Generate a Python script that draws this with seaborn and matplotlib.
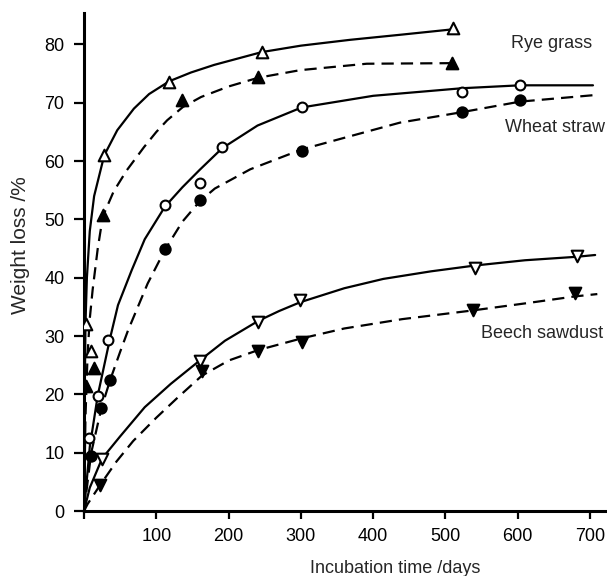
import matplotlib
matplotlib.use("Agg")
import matplotlib.pyplot as plt
import seaborn as sns
import pandas as pd

# ---- fitted curves ----
rye_solid_x = [0, 1, 2, 4, 8, 14, 22, 28, 46, 69, 90, 118, 148, 180, 246, 300, 368, 440, 510]
rye_solid_y = [0, 20, 32, 40, 48, 54, 58, 61, 65.3, 69.0, 71.5, 73.7, 75.2, 76.5, 78.7, 79.8, 80.8, 81.7, 82.6]
rye_dash_x = [0, 2, 5, 8, 12, 19, 26, 41, 59, 83, 100, 115, 137, 162, 200, 241, 299, 391, 509]
rye_dash_y = [0, 16, 27, 33, 38, 45, 50.5, 54.8, 58.4, 62.4, 65, 67, 69.3, 71, 72.8, 74.3, 75.6, 76.7, 76.8]

wheat_solid_x = [0, 8, 19, 36, 47, 66, 84, 112, 136, 160, 191, 240, 301, 400, 523, 603, 704]
wheat_solid_y = [0, 11, 19.8, 29.6, 35.3, 41.3, 46.6, 52.2, 55.5, 58.5, 62.2, 66.1, 69.2, 71.2, 72.5, 73, 73]
wheat_dash_x = [0, 4, 10, 24, 36, 50, 61, 88, 112, 136, 160, 181, 230, 301, 437, 523, 603, 704]
wheat_dash_y = [0, 4, 10, 17.6, 22.4, 27.3, 31, 39, 44.8, 49.6, 53.1, 55.3, 58.6, 62.0, 66.6, 68.4, 70.2, 71.3]

beech_solid_x = [0, 8, 25, 50, 84, 120, 160, 195, 241, 270, 299, 360, 414, 480, 541, 610, 682, 707]
beech_solid_y = [0, 4, 9, 12.8, 17.8, 21.8, 25.8, 29.2, 32.6, 34.3, 35.8, 38.2, 39.8, 41.1, 42.1, 43, 43.6, 43.9]
beech_dash_x = [0, 5, 22, 45, 68, 100, 130, 163, 200, 241, 301, 360, 440, 538, 610, 679, 710]
beech_dash_y = [0, 1.2, 4.4, 8.5, 12, 16, 19.5, 23.2, 25.8, 27.6, 29.6, 31.3, 32.9, 34.4, 35.6, 36.8, 37.2]

# ---- measured points ----
rye_open_x = [3, 10, 28, 118, 246, 510]
rye_open_y = [32, 27.5, 61, 73.5, 78.7, 82.8]
rye_fill_x = [3, 14, 26, 136, 241, 509]
rye_fill_y = [21.5, 24.6, 50.7, 70.4, 74.4, 76.8]

wheat_open_x = [7, 19, 33, 112, 160, 191, 301, 523, 603]
wheat_open_y = [12.6, 19.8, 29.4, 52.4, 56.3, 62.4, 69.3, 71.8, 73]
wheat_fill_x = [9, 24, 36, 112, 160, 301, 523, 603]
wheat_fill_y = [9.5, 17.6, 22.4, 45, 53.3, 61.8, 68.4, 70.5]

beech_open_x = [25, 160, 241, 299, 541, 682]
beech_open_y = [9, 25.8, 32.4, 36.1, 41.6, 43.8]
beech_fill_x = [22, 163, 241, 301, 538, 679]
beech_fill_y = [4.4, 24, 27.5, 28.9, 34.4, 37.3]

labels = ["Rye grass", "Wheat straw", "Beech sawdust"]
label_x = [647, 651.5, 633.6]
label_y = [80.2, 65.8, 30.5]

x_ticks = [100, 200, 300, 400, 500, 600, 700]
y_ticks = [0, 10, 20, 30, 40, 50, 60, 70, 80]

sns.set_style("ticks")
plt.rcParams['font.family'] = ['Liberation Sans', 'DejaVu Sans']

fig = plt.figure(figsize=(6.07, 5.76), dpi=100)
ax = fig.add_axes([84/607, 65/576, 522/607, 498/576])

curves = [
    (rye_solid_x, rye_solid_y, "-"), (rye_dash_x, rye_dash_y, "--"),
    (wheat_solid_x, wheat_solid_y, "-"), (wheat_dash_x, wheat_dash_y, "--"),
    (beech_solid_x, beech_solid_y, "-"), (beech_dash_x, beech_dash_y, "--"),
]
for cx, cy, ls in curves:
    df = pd.DataFrame({"x": cx, "y": cy})
    sns.lineplot(data=df, x="x", y="y", ax=ax, color="black", lw=1.6,
                 sort=False, estimator=None)
    l = ax.lines[-1]
    l.set_solid_joinstyle("round")
    if ls == "--":
        l.set_dashes([5.5, 3.2])

points = [
    (rye_open_x, rye_open_y, "^", "white", 70),
    (rye_fill_x, rye_fill_y, "^", "black", 70),
    (wheat_open_x, wheat_open_y, "o", "white", 50),
    (wheat_fill_x, wheat_fill_y, "o", "black", 55),
    (beech_open_x, beech_open_y, "v", "white", 70),
    (beech_fill_x, beech_fill_y, "v", "black", 70),
]
for px, py, m, fc, s in points:
    df = pd.DataFrame({"x": px, "y": py})
    sns.scatterplot(data=df, x="x", y="y", ax=ax, marker=m, s=s,
                    color=fc, edgecolor="black", linewidth=1.5, zorder=5)

for t, tx, ty in zip(labels, label_x, label_y):
    ax.text(tx, ty, t, ha="center", va="center", fontsize=13)

ax.set_xlim(0, 722)
ax.set_ylim(0, 85.4)
ax.set_xticks([0] + x_ticks)
ax.set_xticklabels([""] + [str(v) for v in x_ticks])
ax.set_yticks(y_ticks)
ax.set_yticklabels([str(v) for v in y_ticks])
ax.tick_params(axis="both", direction="out", width=1.6, labelsize=13,
               color="black", labelcolor="black")
ax.tick_params(axis="y", length=7, pad=7)
ax.tick_params(axis="x", length=6, pad=6)
for sp in ["top", "right"]:
    ax.spines[sp].set_visible(False)
for sp in ["left", "bottom"]:
    ax.spines[sp].set_linewidth(2.2)
    ax.spines[sp].set_color("black")
ax.set_xlabel("Incubation time /days", fontsize=13, va="center")
ax.set_ylabel("Weight loss /%", fontsize=15, va="center")
ax.xaxis.set_label_coords(0.596, -0.1145)
ax.yaxis.set_label_coords(-0.1226, 0.534)
ax.grid(False)

fig.savefig("out.png", dpi=100, facecolor="white")
